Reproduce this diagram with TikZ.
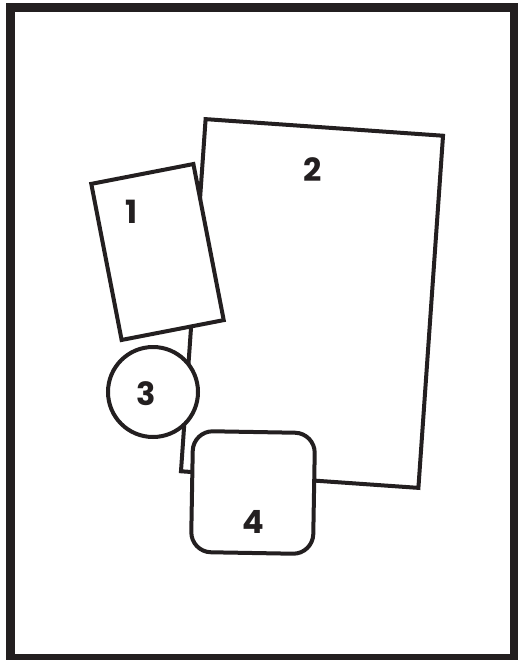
\documentclass[tikz,border=0pt]{standalone}
\usepackage{fontspec}
\setmainfont{Poppins}
\definecolor{ink}{HTML}{231F20}
\begin{document}
\begin{tikzpicture}[x=1pt, y=-1pt, line width=4pt,
	piece/.style={draw=ink, fill=white, inner sep=0pt},
	num/.style={font=\fontsize{32}{32}\selectfont\bfseries, text=ink, inner sep=0pt}]
	\useasboundingbox (0,0) rectangle (518,660);
	\draw[ink, line width=9pt] (10.5,8) rectangle (514.5,658.5);
	% the pieces, back to front
	\node[piece, rectangle, minimum width=238pt, minimum height=353pt, rotate=-4] (r2) at (312,303.5) {};
	\node[piece, rectangle, minimum width=104pt, minimum height=159pt, rotate=11] (r1) at (157.5,252) {};
	\node[piece, circle, minimum size=90pt] (c3) at (153,392) {};
	\node[piece, rectangle, rounded corners=20pt, minimum width=122pt, minimum height=121pt, rotate=-1] (r4) at (253,492.5) {};
	% numbers
	\node[num] (n1) at (132,212) {1};
	\node[num] (n2) at (313,170) {2};
	\node[num] (n3) at (146,394) {3};
	\node[num] (n4) at (253,522) {4};
\end{tikzpicture}
\end{document}
